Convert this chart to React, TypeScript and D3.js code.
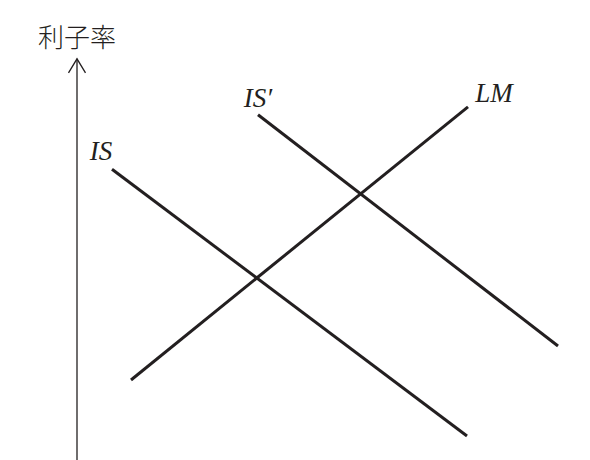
import { useRef, useEffect } from "react";
import * as d3 from "d3";

// Curve endpoints in model units (x: output, y: interest rate)
const curveNames = ["IS", "IS′", "LM"];
const curveX = [
  [7, 78],
  [36.2, 96.2],
  [10.8, 78.2],
];
const curveY = [
  [70.2, 3.5],
  [83.8, 26],
  [17.5, 85.8],
];
const axisLabel = "利子率";

export default function App() {
  const chartRef = useRef<HTMLDivElement>(null);

  useEffect(() => {
    if (!chartRef.current) return;
    d3.select(chartRef.current).selectAll("*").remove();

    const width = 590;
    const height = 460;

    const svg = d3
      .select(chartRef.current)
      .append("svg")
      .attr("width", width)
      .attr("height", height)
      .style("position", "absolute")
      .style("left", "0px")
      .style("top", "0px")
      .style("background", "#fff");

    const xScale = d3.scaleLinear().domain([0, 100]).range([77, 577]);
    const yScale = d3.scaleLinear().domain([0, 100]).range([450, 50]);

    const ink = "#231f20";

    // vertical axis with open arrow head
    const axisX = xScale(0);
    const axisTop = yScale(97.8);
    svg
      .append("line")
      .attr("x1", axisX)
      .attr("x2", axisX)
      .attr("y1", yScale(-3))
      .attr("y2", axisTop)
      .attr("stroke", ink)
      .attr("stroke-width", 1.3);

    svg
      .append("path")
      .attr(
        "d",
        `M${axisX - 8.5},${axisTop + 14} L${axisX},${axisTop} L${axisX + 8.5},${axisTop + 14}`
      )
      .attr("fill", "none")
      .attr("stroke", ink)
      .attr("stroke-width", 1.3);

    svg
      .append("text")
      .attr("x", axisX)
      .attr("y", 47)
      .attr("text-anchor", "middle")
      .attr("font-family", "'Noto Sans CJK JP', sans-serif")
      .attr("font-weight", 300)
      .attr("font-size", "26px")
      .attr("fill", ink)
      .text(axisLabel);

    const line = d3
      .line<[number, number]>()
      .x((d) => xScale(d[0]))
      .y((d) => yScale(d[1]));

    curveNames.forEach((name, i) => {
      const pts: [number, number][] = curveX[i].map((x, j) => [x, curveY[i][j]]);
      svg
        .append("path")
        .attr("d", line(pts))
        .attr("fill", "none")
        .attr("stroke", ink)
        .attr("stroke-width", 3);
    });

    // curve labels near the upper end of each curve
    const labelPos = [
      { x: 101, y: 160, anchor: "middle" },
      { x: 258, y: 107, anchor: "middle" },
      { x: 494, y: 102, anchor: "middle" },
    ];
    curveNames.forEach((name, i) => {
      svg
        .append("text")
        .attr("x", labelPos[i].x)
        .attr("y", labelPos[i].y)
        .attr("text-anchor", labelPos[i].anchor)
        .attr("font-family", "'Liberation Serif', serif")
        .attr("font-style", "italic")
        .attr("font-size", "27px")
        .attr("fill", ink)
        .text(name);
    });
  }, []);

  return <div ref={chartRef}></div>;
}
